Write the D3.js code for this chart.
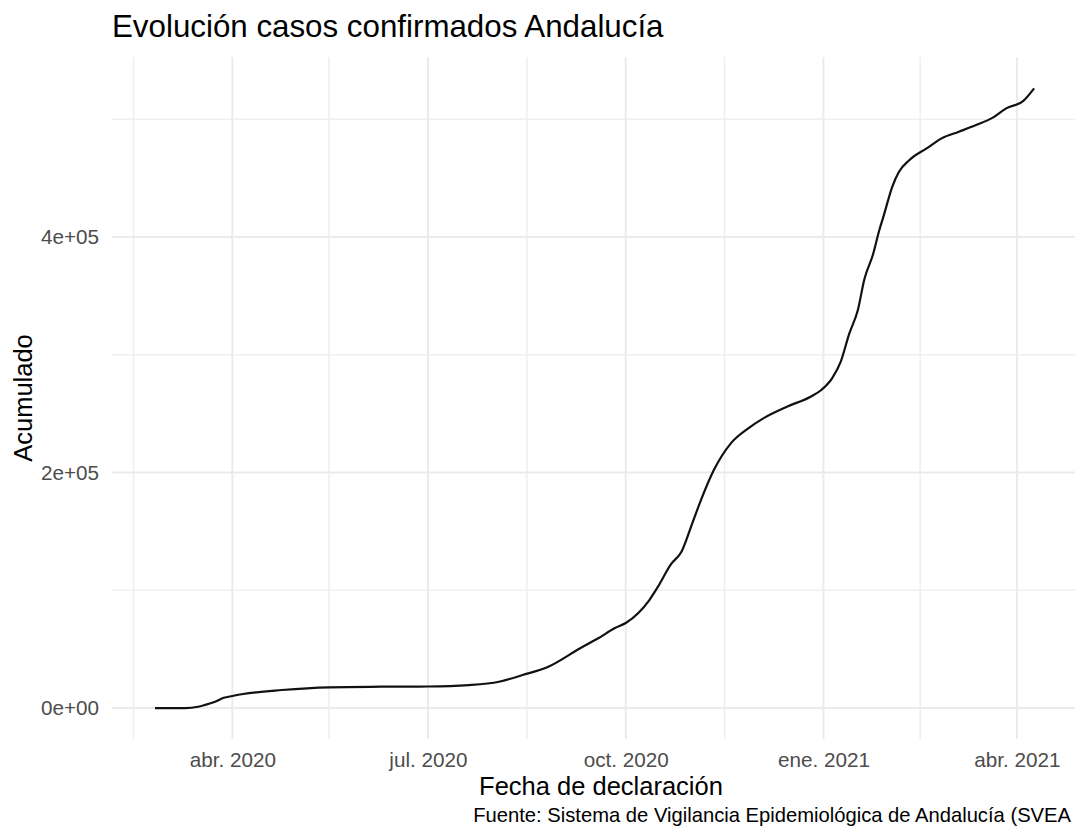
<!DOCTYPE html>
<html>
<head>
<meta charset="utf-8">
<script src="https://cdn.jsdelivr.net/npm/d3@7"></script>
<style>
  html, body { margin: 0; padding: 0; background: #ffffff; }
  svg { display: block; font-family: "Liberation Sans", Arial, sans-serif; }
</style>
</head>
<body>
<svg id="chart" width="1075" height="835"></svg>
<script>
// ---- Data ----
const dates = [
  "2020-02-25","2020-03-10","2020-03-16","2020-03-19","2020-03-24","2020-03-28",
  "2020-04-01","2020-04-06","2020-04-24","2020-05-16","2020-06-09","2020-07-01",
  "2020-07-20","2020-08-03","2020-08-14","2020-08-26","2020-09-10","2020-09-18",
  "2020-09-26","2020-10-01","2020-10-12","2020-10-16","2020-10-22","2020-10-27",
  "2020-11-01","2020-11-05","2020-11-11","2020-11-19","2020-11-27","2020-12-04",
  "2020-12-15","2020-12-26","2020-12-31","2021-01-05","2021-01-09","2021-01-13",
  "2021-01-17","2021-01-20","2021-01-24","2021-01-27","2021-01-29","2021-02-02",
  "2021-02-05","2021-02-10","2021-02-18","2021-02-25","2021-03-05","2021-03-13",
  "2021-03-21","2021-03-27","2021-04-04","2021-04-09"
];
const acumulado = [
  0, 0, 1100, 2500, 5400, 8700,
  10200, 11900, 15300, 17600, 18100, 18300,
  19500, 22300, 28000, 35100, 51000, 59000,
  67900, 72200, 91700, 103000, 122000, 133000,
  157100, 176600, 202100, 225000, 237500, 246000,
  255900, 264400, 270100, 280000, 294000, 318000,
  338000, 364000, 385000, 406000, 418000, 442700,
  455000, 465400, 475300, 483800, 489400, 495100,
  501600, 509300, 515700, 526300
];
const xTickDates = ["2020-04-01","2020-07-01","2020-10-01","2021-01-01","2021-04-01"];
const xTickLabels = ["abr. 2020","jul. 2020","oct. 2020","ene. 2021","abr. 2021"];
const xMinorDates = ["2020-02-15","2020-05-16","2020-08-16","2020-11-16","2021-02-15"];
const yTicks = [0, 200000, 400000];
const yTickLabels = ["0e+00","2e+05","4e+05"];
const yMinor = [100000, 300000, 500000];
const xDomain = ["2020-02-05","2021-05-05"];
const yDomain = [-26300, 552900];

const titleText = "Evolución casos confirmados Andalucía";
const xTitle = "Fecha de declaración";
const yTitle = "Acumulado";
const captionText = "Fuente: Sistema de Vigilancia Epidemiológica de Andalucía (SVEA";

// ---- Layout ----
const parse = d3.utcParse("%Y-%m-%d");
const panel = { left: 112, right: 1090, top: 57, bottom: 739 };

const svg = d3.select("#chart");
svg.append("rect").attr("width", 1075).attr("height", 835).attr("fill", "#ffffff");

const x = d3.scaleUtc().domain(xDomain.map(parse)).range([panel.left, panel.right]);
const y = d3.scaleLinear().domain(yDomain).range([panel.bottom, panel.top]);

const data = dates.map((d, i) => ({ date: parse(d), value: acumulado[i] }));

const grid = svg.append("g");
// minor grid
grid.selectAll("line.ymin").data(yMinor).join("line")
  .attr("x1", panel.left).attr("x2", panel.right)
  .attr("y1", d => y(d)).attr("y2", d => y(d))
  .attr("stroke", "#efefef").attr("stroke-width", 1.6);
grid.selectAll("line.xmin").data(xMinorDates.map(parse)).join("line")
  .attr("y1", panel.top).attr("y2", panel.bottom)
  .attr("x1", d => x(d)).attr("x2", d => x(d))
  .attr("stroke", "#efefef").attr("stroke-width", 1.6);
// major grid
grid.selectAll("line.ymaj").data(yTicks).join("line")
  .attr("x1", panel.left).attr("x2", panel.right)
  .attr("y1", d => y(d)).attr("y2", d => y(d))
  .attr("stroke", "#ebebeb").attr("stroke-width", 2);
grid.selectAll("line.xmaj").data(xTickDates.map(parse)).join("line")
  .attr("y1", panel.top).attr("y2", panel.bottom)
  .attr("x1", d => x(d)).attr("x2", d => x(d))
  .attr("stroke", "#ebebeb").attr("stroke-width", 2);

// line
const line = d3.line().x(d => x(d.date)).y(d => y(d.value)).curve(d3.curveMonotoneX);
svg.append("path").datum(data)
  .attr("d", line)
  .attr("fill", "none")
  .attr("stroke", "#111111")
  .attr("stroke-width", 2.2)
  .attr("stroke-linejoin", "round")
  .attr("stroke-linecap", "butt");

// y axis labels
const yAxis = d3.axisLeft(y).tickValues(yTicks)
  .tickFormat((d, i) => yTickLabels[i]).tickSize(0).tickPadding(0);
const gy = svg.append("g").attr("transform", `translate(99,0)`).call(yAxis);
gy.select(".domain").remove();
gy.selectAll("text").attr("font-size", "20.7px").attr("fill", "#4d4d4d")
  .attr("font-family", "'Liberation Sans', Arial, sans-serif");

// x axis labels
const xAxis = d3.axisBottom(x).tickValues(xTickDates.map(parse))
  .tickFormat((d, i) => xTickLabels[i]).tickSize(0).tickPadding(0);
const gx = svg.append("g").attr("transform", `translate(0,752)`).call(xAxis);
gx.select(".domain").remove();
gx.selectAll("text").attr("font-size", "20.7px").attr("fill", "#4d4d4d")
  .attr("font-family", "'Liberation Sans', Arial, sans-serif")
  .attr("dy", "0.71em");

// titles
svg.append("text").attr("x", 112).attr("y", 37)
  .attr("font-size", "31.3px").attr("fill", "#000").text(titleText);
svg.append("text").attr("x", (panel.left + panel.right) / 2).attr("y", 795)
  .attr("text-anchor", "middle").attr("font-size", "25.5px").attr("fill", "#000").text(xTitle);
svg.append("text").attr("transform", `translate(32,${(panel.top + panel.bottom) / 2}) rotate(-90)`)
  .attr("text-anchor", "middle").attr("font-size", "25.5px").attr("fill", "#000").text(yTitle);
svg.append("text").attr("x", 1071).attr("y", 822).attr("text-anchor", "end")
  .attr("font-size", "20.2px").attr("fill", "#000").text(captionText);
</script>
</body>
</html>
